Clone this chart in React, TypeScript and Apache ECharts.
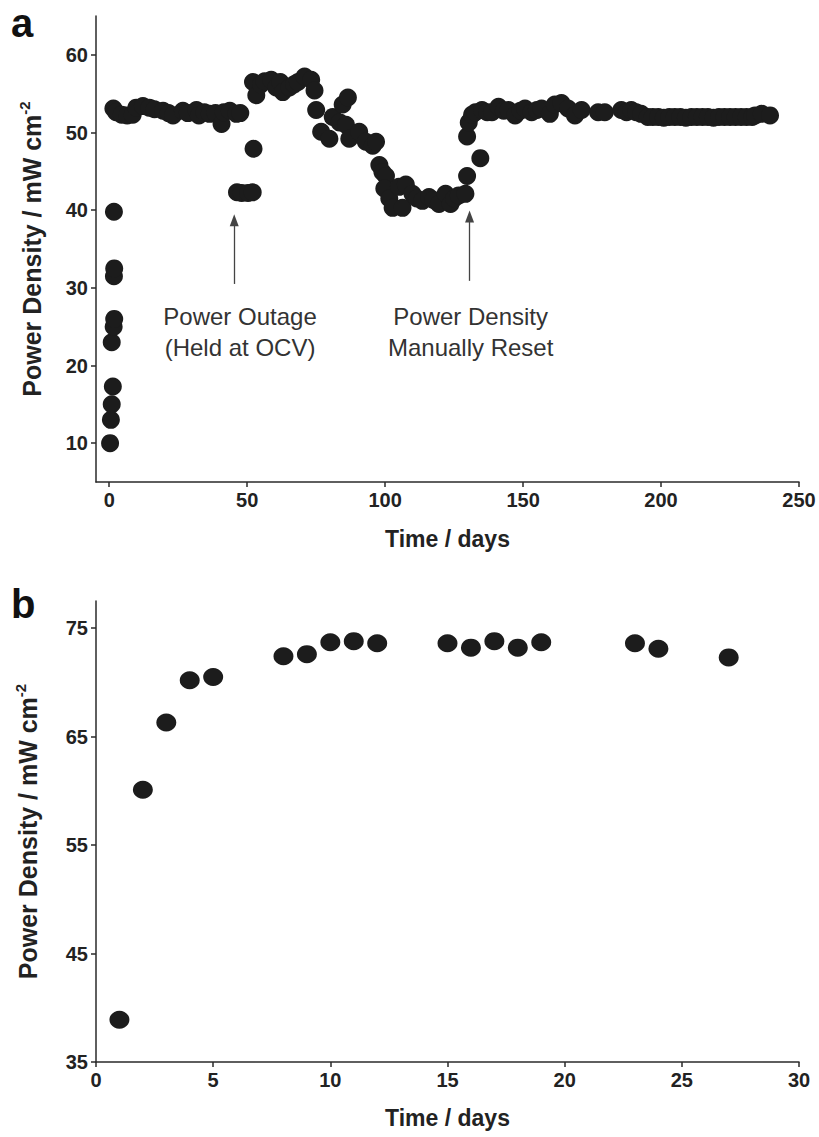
import { useEffect, useRef } from "react";
import * as echarts from "echarts";

// ---- Panel a data (Time / days, Power Density / mW cm-2) ----
const topDays = [
  0.3, 0.6, 0.9, 1.3, 0.9, 1.6, 1.8, 1.7, 1.8, 1.7,
  1.5, 2.5, 4.5, 6.5, 8.5, 9.8, 12.2, 14.5, 16.4, 19.5, 21.5, 23.1, 26.7, 28.5,
  31.6, 32.5, 34.5, 36.4, 38.5, 40.7, 41.5, 43.7, 46.1, 47.5,
  46.3, 48, 50.3, 52, 52.3,
  52.1, 53.3, 55, 56.3, 58.7, 60.5, 62, 62.9, 65.3, 67, 68.4, 70.8, 73.2, 74.4,
  75, 76.8, 79.8, 81, 83.5, 84.6, 86.5, 85.8, 87, 90.6, 93, 95.5, 96.7, 97.9,
  99, 100.3, 99.7, 101.5, 102.7, 105, 106.3, 107.5, 109.9, 111.5, 113.5, 115.9,
  117.5, 119.5, 121.9, 123.7, 125, 126.7, 129.1, 129.7, 129.7, 130.3, 131.5,
  132.7, 134.5, 135.1, 137, 138.7, 141.1, 143, 144.7, 147.1, 149, 150.7, 153.1,
  155, 156.7, 159.7, 161.5, 163.9, 166.3, 168.8, 171.2, 177.2, 179.6, 185.6,
  187.5, 189.2, 191, 192.8, 195.2, 197, 199, 201, 203, 205, 207, 209, 211, 213,
  215, 217, 219, 221, 223, 225, 227, 229, 231, 233, 234.1, 236.5, 239.5,
];
const topPower = [
  10, 13, 15, 17.3, 23, 25, 26, 31.5, 32.5, 39.8,
  53.1, 52.6, 52.3, 52.2, 52.3, 53.2, 53.4, 53.2, 53.0, 52.8, 52.5, 52.2, 52.8, 52.5,
  52.9, 52.2, 52.6, 52.4, 52.5, 51.1, 52.6, 52.8, 52.4, 52.5,
  42.3, 42.2, 42.2, 42.3, 47.9,
  56.5, 54.8, 56.2, 56.6, 56.8, 55.8, 56.5, 55.2, 55.8, 56.2, 56.5, 57.2, 56.8, 55.4,
  52.9, 50.1, 49.2, 52, 51.3, 53.6, 54.5, 51, 49.2, 50.1, 48.8, 48.3, 48.8, 45.8,
  44.9, 44.4, 42.8, 41.5, 40.3, 43, 40.3, 43.3, 42.1, 41.5, 41.2, 41.7,
  41.3, 40.8, 42.1, 40.8, 41.5, 41.9, 42.1, 44.4, 49.5, 51.3, 52.3,
  52.6, 46.7, 52.9, 52.6, 52.6, 53.3, 52.8, 52.9, 52.2, 52.8, 53.1, 52.6,
  52.9, 53.1, 52.4, 53.6, 53.8, 53.1, 52.2, 52.9, 52.6, 52.6, 52.9,
  52.6, 52.9, 52.6, 52.4, 52.0, 52.0, 52.0, 51.9, 52.0, 52.0, 52.0, 51.9, 52.0, 52.0,
  52.0, 52.0, 51.9, 52.0, 52.0, 52.0, 52.0, 52.0, 52.0, 52.0, 52.2, 52.4, 52.2,
];
const topXTicks = [0, 50, 100, 150, 200, 250];
const topYTicks = [10, 20, 30, 40, 50, 60];

const arrowDays = [45.3, 130.6];
const arrowFrom = [30.5, 30.9];
const arrowTo = [38.7, 39.2];
const noteDays = [47.4, 131];
const noteValues = [24.3, 24.3];
const noteTexts = ["Power Outage\n(Held at OCV)", "Power Density\nManually Reset"];

// ---- Panel b data ----
const bottomDays = [1, 2, 3, 4, 5, 8, 9, 10, 11, 12, 15, 16, 17, 18, 19, 23, 24, 27];
const bottomPower = [38.9, 60.1, 66.3, 70.2, 70.5, 72.4, 72.6, 73.7, 73.8, 73.6, 73.6, 73.2, 73.8, 73.2, 73.7, 73.6, 73.1, 72.3];
const bottomYTicks = [35, 45, 55, 65, 75];

const FONT = "'Liberation Sans', Arial, Helvetica, sans-serif";
const INK = "#1c1c1c";
const AXIS = "#2a2a2a";

export default function App() {
  const ref = useRef<HTMLDivElement>(null);

  useEffect(() => {
    document.body.style.margin = "0";
    if (!ref.current) return;
    const chart = echarts.init(ref.current, null, { renderer: "svg" });

    const axisCommon = {
      type: "value",
      splitLine: { show: false },
      axisLine: { show: true, onZero: false, lineStyle: { color: AXIS, width: 1.5 } },
      axisTick: { show: true, length: 5, lineStyle: { color: AXIS, width: 1.5 } },
    };
    const labelStyle = { fontFamily: FONT, fontWeight: "bold", fontSize: 20, color: "#222" };
    const xNameStyle = {
      fontFamily: FONT,
      fontWeight: "bold",
      fontSize: 23,
      color: "#222",
      lineHeight: 28,
    };
    const yNameStyle = {
      fontFamily: FONT,
      fontWeight: "bold",
      fontSize: 25,
      color: "#222",
      lineHeight: 30,
      rich: {
        s: { fontFamily: FONT, fontWeight: "bold", fontSize: 15, color: "#222", verticalAlign: "top", lineHeight: 15 },
      },
    };
    const yName = "Power Density / mW cm{s|-2}";

    chart.setOption({
      animation: false,
      backgroundColor: "#fff",
      grid: [
        { left: 96, top: 16, width: 703, height: 466 },
        { left: 96, top: 601, width: 703, height: 461 },
      ],
      xAxis: [
        {
          ...axisCommon,
          gridIndex: 0,
          min: -4.8,
          max: 250,
          axisTick: { ...axisCommon.axisTick, customValues: topXTicks },
          axisLabel: { ...labelStyle, margin: 8, customValues: topXTicks },
          name: "Time / days",
          nameLocation: "middle",
          nameGap: 43,
          nameTextStyle: xNameStyle,
        },
        {
          ...axisCommon,
          gridIndex: 1,
          min: 0,
          max: 30,
          interval: 5,
          axisLabel: { ...labelStyle, margin: 8 },
          name: "Time / days",
          nameLocation: "middle",
          nameGap: 42,
          nameTextStyle: xNameStyle,
        },
      ],
      yAxis: [
        {
          ...axisCommon,
          gridIndex: 0,
          min: 5,
          max: 65,
          axisTick: { ...axisCommon.axisTick, customValues: topYTicks },
          axisLabel: { ...labelStyle, margin: 8, customValues: topYTicks },
          name: yName,
          nameLocation: "middle",
          nameGap: 49,
          nameTextStyle: yNameStyle,
        },
        {
          ...axisCommon,
          gridIndex: 1,
          min: 35,
          max: 77.5,
          axisTick: { ...axisCommon.axisTick, customValues: bottomYTicks },
          axisLabel: { ...labelStyle, margin: 8, customValues: bottomYTicks },
          name: yName,
          nameLocation: "middle",
          nameGap: 53,
          nameTextStyle: yNameStyle,
        },
      ],
      series: [
        {
          type: "scatter",
          xAxisIndex: 0,
          yAxisIndex: 0,
          symbol: "circle",
          symbolSize: 18,
          itemStyle: { color: INK, opacity: 1 },
          data: topDays.map((d, i) => [d, topPower[i]]),
          markLine: {
            silent: true,
            symbol: ["none", "triangle"],
            symbolSize: [9, 12],
            label: { show: false },
            emphasis: { disabled: true },
            lineStyle: { color: "#444", width: 1.3, type: "solid" },
            data: arrowDays.map((d, i) => [{ coord: [d, arrowFrom[i]] }, { coord: [d, arrowTo[i]] }]),
          },
          markPoint: {
            silent: true,
            symbol: "circle",
            symbolSize: 0,
            itemStyle: { color: "transparent" },
            label: {
              show: true,
              position: "inside",
              fontFamily: FONT,
              fontSize: 24,
              lineHeight: 31,
              color: "#333",
              align: "center",
              formatter: (p: any) => noteTexts[p.dataIndex],
            },
            data: noteDays.map((d, i) => ({ coord: [d, noteValues[i]], value: noteValues[i] })),
          },
        },
        {
          type: "scatter",
          xAxisIndex: 1,
          yAxisIndex: 1,
          symbol: "circle",
          symbolSize: [20, 18],
          itemStyle: { color: INK, opacity: 1 },
          data: bottomDays.map((d, i) => [d, bottomPower[i]]),
        },
      ],
      graphic: [
        {
          type: "text",
          left: 11,
          top: 3,
          style: { text: "a", fontFamily: FONT, fontWeight: "bold", fontSize: 40, fill: "#111" },
        },
        {
          type: "text",
          left: 11,
          top: 584,
          style: { text: "b", fontFamily: FONT, fontWeight: "bold", fontSize: 40, fill: "#111" },
        },
      ],
    });

    return () => chart.dispose();
  }, []);

  return (
    <div
      ref={ref}
      style={{ position: "absolute", left: 0, top: 0, width: 819, height: 1137, background: "#fff" }}
    />
  );
}
